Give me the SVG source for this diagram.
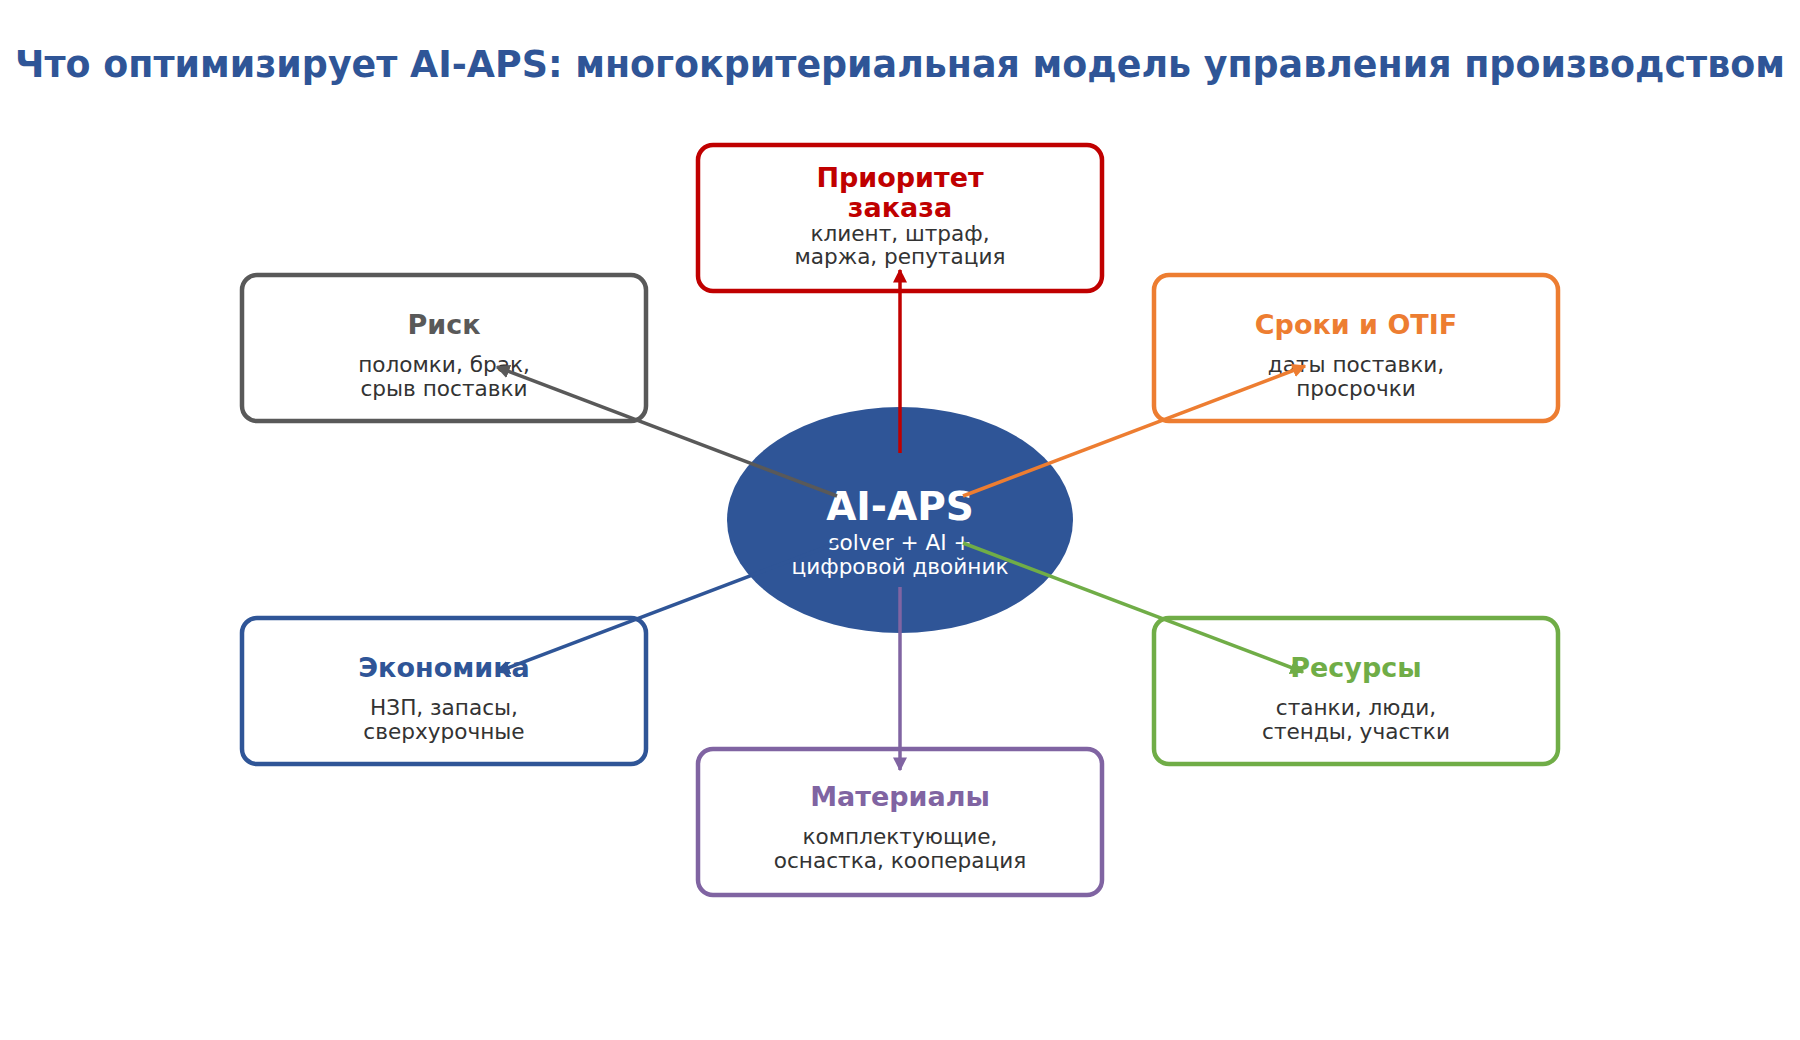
<svg xmlns="http://www.w3.org/2000/svg" width="1800" height="1040" viewBox="0 0 1800 1040">
<defs>
<style>
text{font-family:"DejaVu Sans","Noto Sans",sans-serif;text-anchor:middle}
.title{font-size:36.4px;font-weight:bold;fill:#2F5597}
.h{font-size:27px;font-weight:bold}
.s{font-size:21.6px;fill:#333333}
.box{fill:#ffffff;stroke-width:4.5}
.c{stroke-width:3.5;fill:none}
</style>
<marker id="mR" viewBox="0 0 10 10" refX="9" refY="5" markerWidth="4" markerHeight="4" orient="auto"><path d="M0,0 L10,5 L0,10 z" fill="#C00000"/></marker>
<marker id="mG" viewBox="0 0 10 10" refX="9" refY="5" markerWidth="4" markerHeight="4" orient="auto"><path d="M0,0 L10,5 L0,10 z" fill="#595959"/></marker>
<marker id="mO" viewBox="0 0 10 10" refX="9" refY="5" markerWidth="4" markerHeight="4" orient="auto"><path d="M0,0 L10,5 L0,10 z" fill="#ED7D31"/></marker>
<marker id="mB" viewBox="0 0 10 10" refX="9" refY="5" markerWidth="4" markerHeight="4" orient="auto"><path d="M0,0 L10,5 L0,10 z" fill="#2F5597"/></marker>
<marker id="mGr" viewBox="0 0 10 10" refX="9" refY="5" markerWidth="4" markerHeight="4" orient="auto"><path d="M0,0 L10,5 L0,10 z" fill="#70AD47"/></marker>
<marker id="mP" viewBox="0 0 10 10" refX="9" refY="5" markerWidth="4" markerHeight="4" orient="auto"><path d="M0,0 L10,5 L0,10 z" fill="#8064A2"/></marker>
</defs>
<rect width="1800" height="1040" fill="#ffffff"/>
<text class="title" x="900" y="77">Что оптимизирует AI-APS: многокритериальная модель управления производством</text>

<g id="node-priority">
<rect class="box" x="698" y="145" width="404" height="146" rx="15" stroke="#C00000"/>
<text class="h" x="900" y="187" fill="#C00000">Приоритет</text>
<text class="h" x="900" y="217" fill="#C00000">заказа</text>
<text class="s" x="900" y="241">клиент, штраф,</text>
<text class="s" x="900" y="264">маржа, репутация</text>
</g>
<g id="node-risk">
<rect class="box" x="242" y="275" width="404" height="146" rx="15" stroke="#595959"/>
<text class="h" x="444" y="334" fill="#595959">Риск</text>
<text class="s" x="444" y="372">поломки, брак,</text>
<text class="s" x="444" y="396">срыв поставки</text>
</g>
<g id="node-otif">
<rect class="box" x="1154" y="275" width="404" height="146" rx="15" stroke="#ED7D31"/>
<text class="h" x="1356" y="334" fill="#ED7D31">Сроки и OTIF</text>
<text class="s" x="1356" y="372">даты поставки,</text>
<text class="s" x="1356" y="396">просрочки</text>
</g>
<g id="node-economics">
<rect class="box" x="242" y="618" width="404" height="146" rx="15" stroke="#2F5597"/>
<text class="h" x="444" y="677" fill="#2F5597">Экономика</text>
<text class="s" x="444" y="715">НЗП, запасы,</text>
<text class="s" x="444" y="739">сверхурочные</text>
</g>
<g id="node-resources">
<rect class="box" x="1154" y="618" width="404" height="146" rx="15" stroke="#70AD47"/>
<text class="h" x="1356" y="677" fill="#70AD47">Ресурсы</text>
<text class="s" x="1356" y="715">станки, люди,</text>
<text class="s" x="1356" y="739">стенды, участки</text>
</g>
<g id="node-materials">
<rect class="box" x="698" y="749" width="404" height="146" rx="15" stroke="#8064A2"/>
<text class="h" x="900" y="806" fill="#8064A2">Материалы</text>
<text class="s" x="900" y="844">комплектующие,</text>
<text class="s" x="900" y="868">оснастка, кооперация</text>
</g>

<g id="node-core">
<ellipse cx="900" cy="520" rx="173" ry="113" fill="#2F5597"/>
<text x="900" y="520" font-size="39" font-weight="bold" fill="#ffffff">AI-APS</text>
<text x="900" y="550" font-size="21.6" fill="#ffffff">solver + AI +</text>
<text x="900" y="574" font-size="21.6" fill="#ffffff">цифровой двойник</text>
</g>

<g id="connectors">
<line class="c" x1="900" y1="453" x2="900" y2="270" stroke="#C00000" marker-end="url(#mR)"/>
<line class="c" x1="837" y1="496" x2="497" y2="367" stroke="#595959" marker-end="url(#mG)"/>
<line class="c" x1="963" y1="496" x2="1305" y2="366" stroke="#ED7D31" marker-end="url(#mO)"/>
<line class="c" x1="837" y1="543" x2="497" y2="672" stroke="#2F5597" marker-end="url(#mB)"/>
<line class="c" x1="963" y1="543" x2="1303" y2="672" stroke="#70AD47" marker-end="url(#mGr)"/>
<line class="c" x1="900" y1="587" x2="900" y2="770" stroke="#8064A2" marker-end="url(#mP)"/>
</g>
</svg>
